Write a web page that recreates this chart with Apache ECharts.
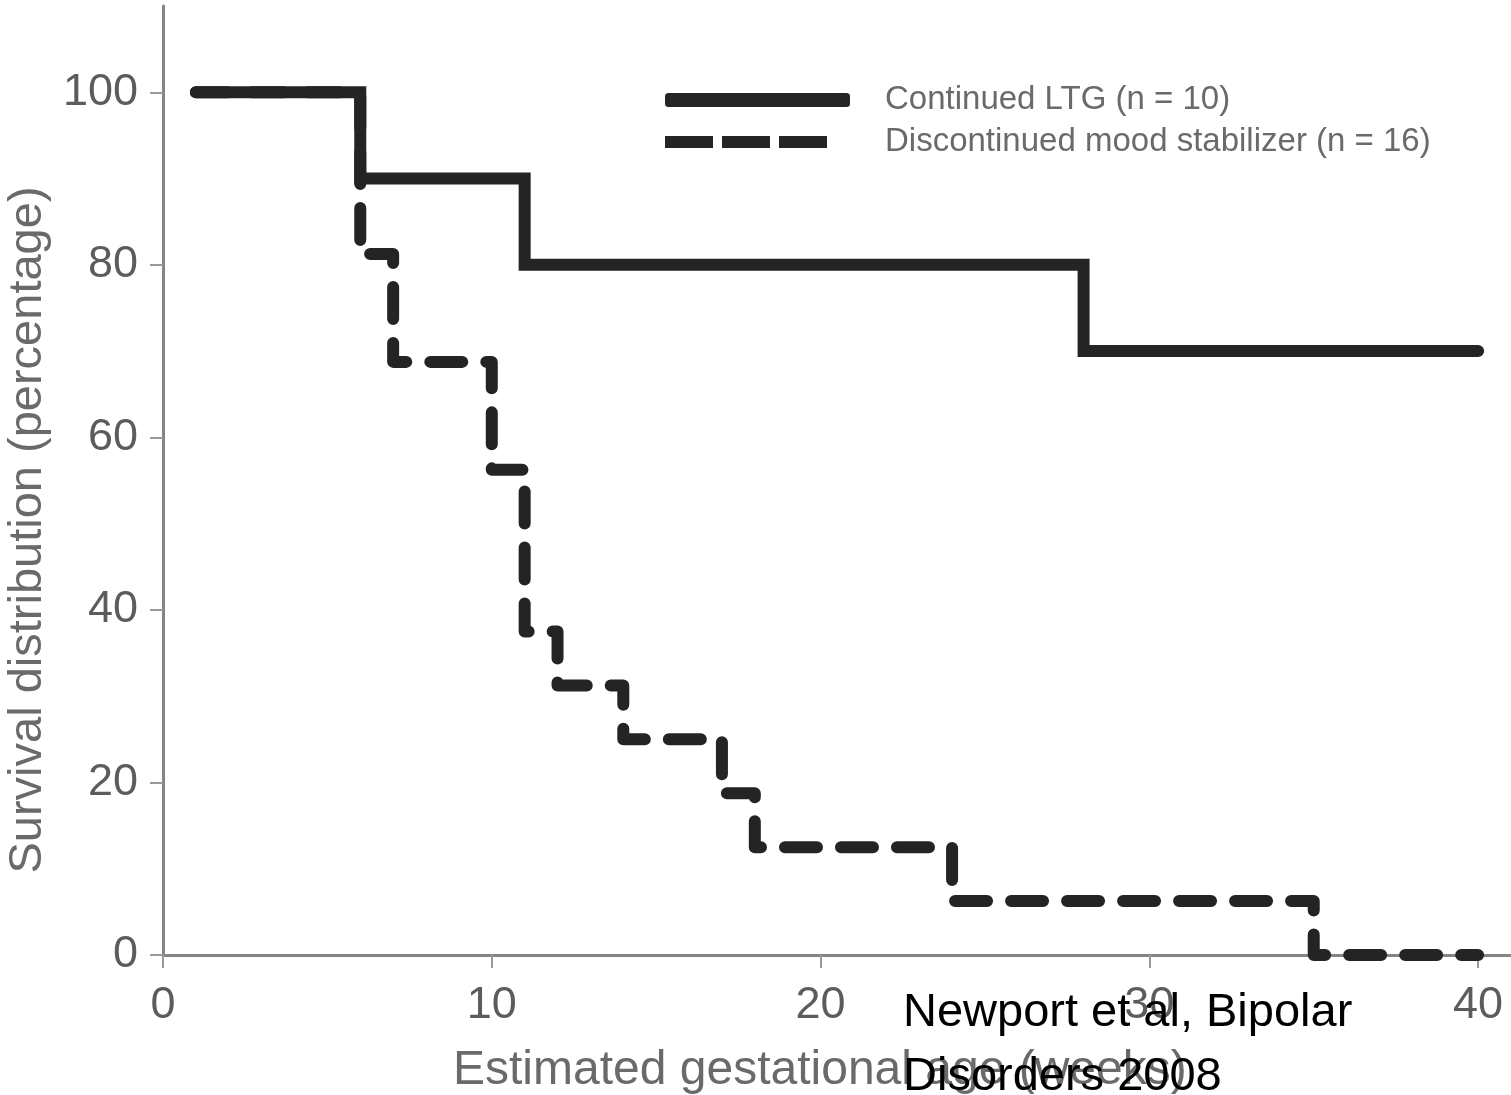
<!DOCTYPE html>
<html>
<head>
<meta charset="utf-8">
<script src="https://cdn.jsdelivr.net/npm/echarts@6/dist/echarts.min.js"></script>
<style>
html,body{margin:0;padding:0;background:#fff;}
#chart{width:1511px;height:1095px;}
</style>
</head>
<body>
<div id="chart"></div>
<script>
// Data (weeks, survival %)
const ltgWeeks = [1, 6, 11, 28, 40];
const ltgSurvival = [100, 90, 80, 70, 70];
const discWeeks = [1, 6, 7, 10, 11, 12, 14, 17, 18, 24, 35, 40];
const discSurvival = [100, 81.25, 68.75, 56.25, 37.5, 31.25, 25, 18.75, 12.5, 6.25, 0, 0];
const xTicks = [0, 10, 20, 30, 40];
const yTicks = [0, 20, 40, 60, 80, 100];
const seriesNames = ['Continued LTG (n = 10)', 'Discontinued mood stabilizer (n = 16)'];
const xTitle = 'Estimated gestational age (weeks)';
const yTitle = 'Survival distribution (percentage)';
const noteText = 'Newport et al, Bipolar\nDisorders 2008';

const FONT = 'Liberation Sans, Arial, Helvetica, sans-serif';
const LINE = '#242424';
const TITLE_C = '#6a6a6a';

const chart = echarts.init(document.getElementById('chart'), null, {renderer: 'canvas'});
chart.setOption({
  backgroundColor: '#ffffff',
  animation: false,
  grid: {left: 163, right: 0, top: 6, bottom: 140, containLabel: false},
  legend: [
    {
      left: 660, top: 78,
      itemWidth: 185, itemHeight: 14,
      data: [{name: seriesNames[0], icon: 'roundRect'}],
      textStyle: {fontFamily: FONT, fontSize: 33, color: TITLE_C, padding: [0, 0, 0, 30], lineHeight: 34}
    },
    {
      left: 660, top: 120,
      itemWidth: 162, itemHeight: 12,
      data: [{name: seriesNames[1], icon: 'path://M0,0h48v12h-48z M57,0h48v12h-48z M114,0h48v12h-48z'}],
      textStyle: {fontFamily: FONT, fontSize: 33, color: TITLE_C, padding: [0, 0, 0, 53], lineHeight: 34}
    }
  ],
  xAxis: {
    type: 'value',
    min: 0,
    max: 41,
    interval: 10,
    splitLine: {show: false},
    axisLine: {lineStyle: {color: '#858585', width: 3}},
    axisTick: {show: true, length: 13, customValues: xTicks, lineStyle: {color: '#9a9a9a', width: 2}},
    axisLabel: {customValues: xTicks, margin: 28, fontFamily: FONT, fontSize: 45, color: '#5c5c5c'}
  },
  yAxis: {
    type: 'value',
    min: 0,
    max: 110,
    interval: 10,
    splitLine: {show: false},
    axisLine: {show: true, lineStyle: {color: '#858585', width: 3}},
    axisTick: {show: true, length: 13, customValues: yTicks, lineStyle: {color: '#9a9a9a', width: 2}},
    axisLabel: {customValues: yTicks, margin: 25, fontFamily: FONT, fontSize: 45, color: '#5c5c5c'}
  },
  graphic: [
    {type: 'text', x: 28, y: 530, rotation: Math.PI / 2, z: 5,
      style: {text: yTitle, font: '47px ' + FONT, fill: TITLE_C, align: 'center', verticalAlign: 'middle'}},
    {type: 'text', x: 453, y: 1047, z: 5,
      style: {text: xTitle, font: '48px ' + FONT, fill: TITLE_C}},
    {type: 'text', x: 903, y: 981, z: 10,
      style: {text: noteText, font: '47px ' + FONT, fill: '#000000', lineHeight: 64}}
  ],
  series: [
    {
      name: seriesNames[1],
      type: 'line',
      step: 'end',
      symbol: 'none',
      z: 2,
      data: discWeeks.map((w, i) => [w, discSurvival[i]]),
      lineStyle: {color: LINE, width: 12, type: [32, 24], cap: 'round', join: 'round'},
      itemStyle: {color: LINE}
    },
    {
      name: seriesNames[0],
      type: 'line',
      step: 'end',
      symbol: 'none',
      z: 3,
      data: ltgWeeks.map((w, i) => [w, ltgSurvival[i]]),
      lineStyle: {color: LINE, width: 12, type: 'solid', cap: 'round', join: 'miter'},
      itemStyle: {color: LINE}
    }
  ]
});
</script>
</body>
</html>
